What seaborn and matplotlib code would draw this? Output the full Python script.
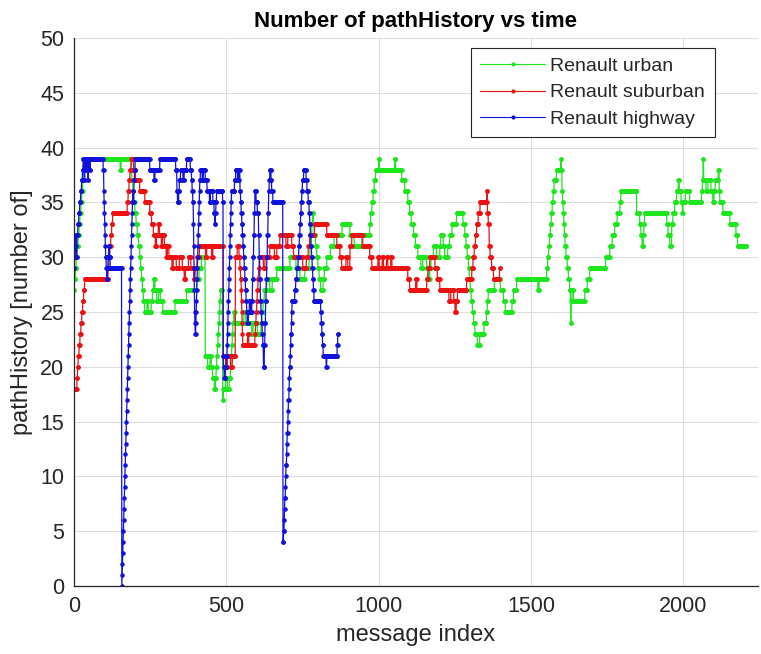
import numpy as np
import pandas as pd
import seaborn as sns
import matplotlib
matplotlib.use("Agg")
import matplotlib.pyplot as plt
from matplotlib.lines import Line2D

# pathHistory size per message, stored as (level, number of consecutive messages)
urban_steps = [
    (27, 2), (28, 3), (29, 3), (30, 3), (31, 3), (32, 3), (33, 3), (34, 3), (35, 3), (36, 3),
    (37, 3), (38, 4), (39, 116), (38, 3), (39, 32), (38, 3), (37, 3), (36, 3), (35, 4), (34, 4),
    (33, 4), (32, 4), (31, 4), (30, 3), (29, 3), (28, 3), (27, 3), (26, 4), (25, 8), (26, 4),
    (25, 10), (26, 4), (27, 4), (28, 4), (27, 6), (26, 6), (27, 6), (26, 8), (25, 40), (26, 38),
    (27, 33), (28, 8), (29, 8), (30, 12), (21, 8), (20, 8), (21, 4), (20, 4), (19, 6), (18, 4),
    (19, 2), (20, 2), (21, 2), (22, 2), (23, 2), (24, 2), (25, 2), (26, 2), (27, 7), (17, 2),
    (18, 8), (19, 6), (18, 6), (19, 4), (20, 2), (21, 2), (22, 2), (23, 2), (24, 3), (25, 3),
    (24, 30), (25, 6), (24, 20), (23, 4), (24, 14), (23, 12), (24, 3), (25, 4), (26, 4), (27, 8),
    (28, 10), (27, 8), (28, 15), (29, 43), (30, 20), (29, 13), (28, 16), (29, 14), (30, 3), (31, 3),
    (32, 3), (33, 3), (34, 2), (33, 3), (32, 4), (31, 4), (30, 4), (29, 4), (28, 5), (27, 8),
    (28, 4), (29, 8), (30, 12), (31, 12), (32, 26), (33, 26), (32, 14), (31, 25), (32, 26), (33, 3),
    (34, 4), (35, 4), (36, 4), (37, 4), (38, 10), (39, 3), (38, 50), (39, 3), (38, 20), (37, 10),
    (36, 10), (35, 6), (34, 5), (33, 8), (32, 6), (31, 8), (30, 10), (29, 6), (30, 13), (29, 6),
    (28, 4), (29, 4), (30, 8), (31, 10), (30, 11), (31, 3), (32, 8), (31, 5), (30, 10), (31, 6),
    (32, 8), (33, 15), (34, 21), (33, 6), (32, 4), (31, 4), (30, 4), (29, 3), (28, 3), (27, 3),
    (26, 4), (25, 4), (24, 4), (23, 8), (22, 8), (23, 14), (24, 8), (25, 3), (26, 3), (27, 20),
    (28, 20), (27, 10), (26, 6), (25, 22), (26, 5), (27, 10), (28, 70), (27, 4), (28, 25), (29, 3),
    (30, 3), (31, 3), (32, 3), (33, 3), (34, 3), (35, 3), (36, 3), (37, 8), (38, 14), (39, 2),
    (38, 2), (36, 2), (35, 2), (34, 2), (33, 2), (32, 2), (31, 3), (30, 4), (29, 4), (28, 4),
    (27, 3), (24, 2), (26, 3), (27, 5), (26, 37), (27, 8), (28, 8), (29, 52), (30, 14), (31, 8),
    (32, 8), (33, 8), (34, 9), (35, 3), (36, 52), (34, 10), (33, 4), (32, 4), (31, 4), (32, 2),
    (33, 2), (34, 73), (33, 4), (32, 6), (31, 6), (33, 4), (34, 6), (35, 6), (36, 6), (37, 3),
    (36, 6), (35, 4), (34, 2), (35, 8), (36, 14), (35, 39), (36, 3), (37, 2), (39, 2), (37, 8),
    (36, 6), (37, 10), (36, 6), (35, 4), (36, 4), (37, 10), (38, 3), (36, 2), (35, 10), (34, 23),
    (33, 20), (32, 5), (31, 30),
]

suburban_steps = [
    (18, 10), (19, 2), (20, 2), (21, 3), (22, 3), (23, 3), (24, 3), (25, 3), (26, 3), (27, 3),
    (28, 77), (29, 3), (30, 3), (31, 3), (32, 3), (33, 3), (34, 48), (35, 3), (36, 3), (37, 3),
    (38, 4), (39, 8), (38, 6), (37, 14), (36, 17), (35, 16), (34, 6), (33, 6), (32, 6), (31, 4),
    (32, 6), (33, 4), (32, 6), (31, 4), (32, 6), (31, 6), (30, 4), (31, 5), (30, 10), (29, 4),
    (30, 10), (29, 10), (30, 10), (29, 6), (28, 4), (29, 10), (30, 8), (29, 10), (28, 4), (29, 6),
    (30, 8), (31, 20), (30, 4), (31, 16), (30, 4), (31, 34), (21, 8), (20, 6), (21, 10), (20, 6),
    (21, 10), (30, 6), (31, 6), (30, 3), (29, 2), (28, 2), (27, 1), (26, 1), (25, 1), (24, 1),
    (23, 1), (22, 16), (23, 4), (22, 20), (23, 2), (24, 2), (25, 2), (26, 2), (27, 2), (28, 2),
    (29, 2), (30, 14), (29, 5), (30, 16), (31, 15), (30, 8), (31, 10), (32, 20), (31, 6), (32, 13),
    (31, 6), (30, 30), (29, 12), (30, 6), (31, 5), (32, 16), (33, 40), (32, 33), (31, 10), (30, 6),
    (29, 14), (30, 6), (29, 7), (31, 6), (32, 36), (31, 23), (30, 7), (29, 20), (30, 4), (29, 10),
    (30, 4), (29, 10), (30, 4), (29, 10), (30, 4), (29, 52), (28, 6), (27, 20), (28, 4), (27, 32),
    (28, 4), (29, 6), (30, 17), (29, 8), (28, 8), (27, 30), (26, 6), (27, 10), (26, 4), (25, 4),
    (26, 4), (27, 30), (28, 17), (29, 4), (30, 4), (31, 4), (32, 4), (33, 5), (34, 6), (35, 22),
    (36, 2), (34, 3), (33, 3), (31, 3), (30, 5), (29, 6), (28, 20), (29, 2),
]

highway_steps = [
    (29, 2), (30, 2), (31, 2), (32, 2), (30, 2), (32, 3), (33, 3), (34, 3), (35, 3), (36, 3),
    (37, 3), (38, 2), (39, 4), (37, 2), (39, 4), (38, 2), (39, 4), (37, 2), (39, 4), (38, 2),
    (39, 42), (38, 2), (36, 1), (35, 1), (34, 1), (33, 1), (32, 1), (31, 1), (30, 2), (29, 2),
    (28, 2), (29, 2), (30, 2), (31, 3), (30, 2), (29, 38),
    (0, 1), (1, 1), (2, 1), (3, 1), (4, 1), (5, 1), (6, 1), (7, 1), (8, 1), (9, 1),
    (10, 1), (11, 1), (12, 1), (13, 1), (14, 1), (15, 1), (16, 1), (17, 1), (18, 1), (19, 1),
    (20, 1), (21, 1), (22, 1), (23, 1), (24, 1), (25, 1), (26, 1), (27, 1), (28, 1), (29, 1),
    (30, 1), (31, 1), (32, 1), (33, 1), (34, 1), (35, 1),
    (36, 2), (35, 2), (37, 2), (38, 2), (39, 48), (38, 14), (37, 3), (38, 16), (39, 52), (38, 4),
    (36, 2), (35, 4), (36, 2), (37, 4), (38, 8), (37, 4), (38, 8), (39, 12), (38, 4), (37, 2),
    (36, 2), (35, 2), (33, 1), (31, 1), (29, 1), (27, 1), (25, 1), (24, 1), (23, 2), (24, 1),
    (25, 1), (26, 1), (27, 1), (28, 1), (29, 1), (30, 1), (31, 1), (32, 1), (33, 1), (34, 1),
    (35, 1), (36, 1), (37, 2), (38, 6), (37, 4), (38, 6), (37, 6), (36, 8), (35, 3), (36, 8),
    (35, 4), (34, 2), (33, 2), (34, 2), (35, 2), (36, 20), (35, 2), (21, 1), (20, 2), (19, 4),
    (20, 3), (21, 3), (22, 1), (23, 1), (24, 1), (25, 1), (26, 1), (27, 1), (28, 1), (29, 1),
    (30, 1), (31, 1), (32, 1), (33, 1), (34, 1), (35, 1), (36, 10), (37, 4), (38, 6), (37, 4),
    (38, 4), (36, 2), (35, 2), (34, 2), (33, 2), (32, 2), (31, 2), (30, 2), (29, 2), (28, 2),
    (27, 2), (26, 2), (25, 2), (24, 4), (25, 3), (26, 4), (25, 4), (26, 2), (28, 2), (30, 2),
    (32, 2), (34, 2), (36, 4), (35, 4), (34, 4), (32, 2), (30, 2), (28, 2), (26, 2), (25, 2),
    (24, 2), (23, 2), (22, 2), (20, 3), (22, 2), (24, 2), (26, 2), (28, 2), (30, 2), (32, 2),
    (34, 2), (36, 2), (37, 2), (38, 4), (37, 2), (36, 4), (35, 33), (4, 2), (5, 2), (6, 1),
    (7, 1), (8, 2), (9, 1), (10, 1), (11, 2), (12, 1), (13, 1), (14, 2), (15, 1), (16, 1),
    (17, 2), (18, 1), (19, 1), (20, 2), (21, 1), (22, 1), (23, 2), (24, 1), (25, 1), (26, 9),
    (27, 3), (28, 4), (29, 4), (30, 2), (31, 2), (32, 2), (33, 2), (34, 2), (35, 2), (36, 2),
    (37, 4), (38, 8), (37, 3), (36, 4), (35, 3), (34, 2), (33, 2), (32, 2), (31, 2), (30, 2),
    (29, 2), (28, 2), (27, 2), (26, 22), (25, 2), (24, 2), (23, 2), (22, 2), (21, 10), (20, 2),
    (21, 34), (22, 2), (23, 2),
]

series_names = ["Renault urban", "Renault suburban", "Renault highway"]
series_colors = ["#1ee61e", "#ee1111", "#1111dd"]


def expand_steps(steps, name):
    levels = [s[0] for s in steps]
    runs = [s[1] for s in steps]
    values = np.repeat(levels, runs)
    return pd.DataFrame({"index": np.arange(len(values)), "value": values, "series": name})


df = pd.concat(
    [
        expand_steps(urban_steps, series_names[0]),
        expand_steps(suburban_steps, series_names[1]),
        expand_steps(highway_steps, series_names[2]),
    ],
    ignore_index=True,
)

sns.set_style("white")
plt.rcParams["font.family"] = ["Liberation Sans", "DejaVu Sans"]
text_color = "#262626"

fig = plt.figure(figsize=(7.61, 6.54), dpi=100)
ax = fig.add_axes([74 / 761, 68 / 654, 684 / 761, 548 / 654])

sns.lineplot(
    data=df,
    x="index",
    y="value",
    hue="series",
    hue_order=series_names,
    palette=series_colors,
    estimator=None,
    errorbar=None,
    marker=".",
    markersize=6.5,
    markeredgewidth=0,
    linewidth=0.9,
    legend=False,
    ax=ax,
)

ax.set_xlim(0, 2245)
ax.set_ylim(0, 50)
ax.set_xticks([0, 500, 1000, 1500, 2000])
ax.set_yticks(np.arange(0, 51, 5))
ax.grid(True, color="#dedede", linewidth=0.8)
ax.set_axisbelow(True)
for side in ["top", "right"]:
    ax.spines[side].set_visible(False)
for side in ["left", "bottom"]:
    ax.spines[side].set_color(text_color)
    ax.spines[side].set_linewidth(0.9)
ax.tick_params(direction="in", length=5, width=0.8, colors=text_color, labelsize=15.5, pad=7)

ax.set_title("Number of pathHistory vs time", fontsize=16, fontweight="bold", color="black", pad=8)
ax.set_xlabel("message index", fontsize=17, color=text_color, labelpad=5)
ax.set_ylabel("pathHistory [number of]", fontsize=17, color=text_color, labelpad=5)

handles = [
    Line2D([0], [0], color=c, marker=".", markersize=6, markeredgewidth=0, linewidth=0.8)
    for c in series_colors
]
leg = ax.legend(
    handles,
    series_names,
    loc="upper right",
    bbox_to_anchor=(0.937, 0.982),
    borderaxespad=0,
    fontsize=14,
    frameon=True,
    fancybox=False,
    framealpha=1,
    edgecolor=text_color,
    handlelength=3.3,
    handletextpad=0.3,
    borderpad=0.5,
    labelspacing=0.44,
)
leg.get_frame().set_linewidth(0.8)

fig.savefig("out.png", dpi=100)
